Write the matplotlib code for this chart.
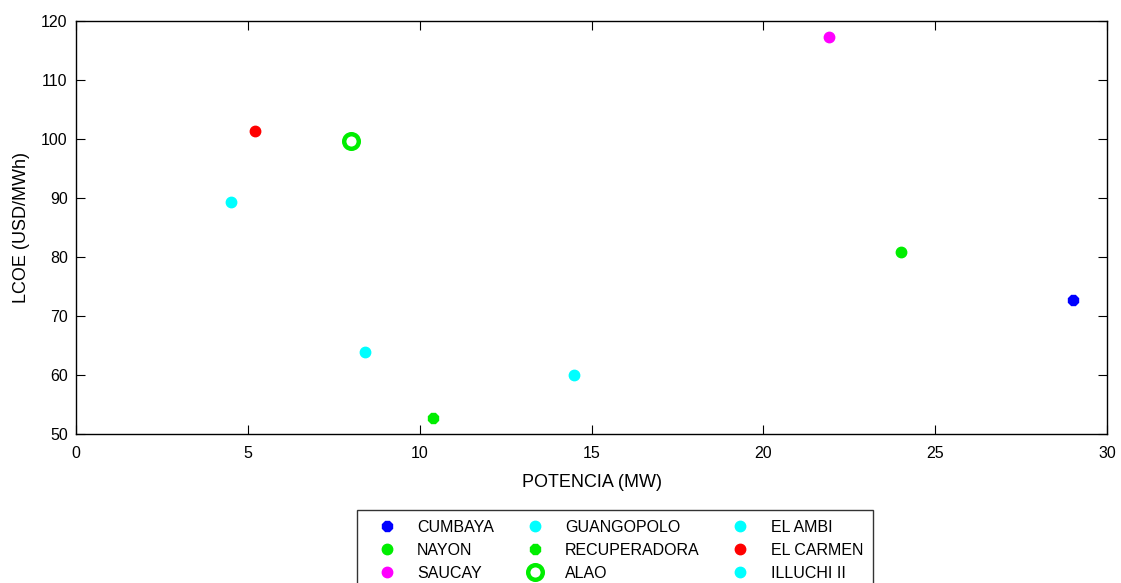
import numpy as np
import matplotlib.pyplot as plt

plt.rcParams['font.family'] = ['Liberation Sans', 'DejaVu Sans']

# centrales hidroelectricas: potencia (MW) y LCOE (USD/MWh)
names = ['CUMBAYA', 'NAYON', 'SAUCAY', 'GUANGOPOLO', 'RECUPERADORA',
         'ALAO', 'EL AMBI', 'EL CARMEN', 'ILLUCHI II']
potencia = [29.0, 24.0, 21.9, 14.5, 10.4, 8.0, 8.4, 5.2, 4.5]
lcoe = [72.7, 80.9, 117.3, 60.0, 52.7, 99.6, 63.9, 101.3, 89.4]
colors = ['#0000ff', '#00ee00', '#ff00ff', '#00ffff', '#00ee00',
          '#00ee00', '#00ffff', '#ff0000', '#00ffff']
markers = ['8', 'o', 'o', 'o', '8', 'o', 'o', 'o', 'o']

fig = plt.figure(figsize=(11.21, 5.83), dpi=100)
ax = fig.add_axes([76 / 1121, 1 - 434 / 583, (1107 - 76) / 1121, (434 - 21) / 583])

for name, x, y, c, m in zip(names, potencia, lcoe, colors, markers):
    if name == 'ALAO':
        ax.plot(x, y, 'o', ms=10.5, mfc='white', mec=c, mew=3.2, label=name)
    else:
        ax.plot(x, y, m, ms=7.5, color=c, mec=c, label=name)

ax.set_xlim(0, 30)
ax.set_ylim(50, 120)
ax.set_xticks(np.arange(0, 31, 5))
ax.set_yticks(np.arange(50, 121, 10))
ax.tick_params(direction='in', top=True, right=True, labelsize=11.5, length=6.5)
ax.tick_params(axis='x', pad=9)
ax.tick_params(axis='y', pad=6)
for s in ax.spines.values():
    s.set_linewidth(1.0)
ax.set_xlabel('POTENCIA (MW)', fontsize=13, labelpad=9)
ax.set_ylabel('LCOE (USD/MWh)', fontsize=13, labelpad=8)

leg = fig.legend(ncol=3, loc='upper left', bbox_to_anchor=(357 / 1121, 1 - 510 / 583),
                 fontsize=11.5, frameon=True, fancybox=False, edgecolor='black',
                 borderpad=0.6, labelspacing=0.5, columnspacing=1.3,
                 handletextpad=0.65, handlelength=2.5, borderaxespad=0)
leg.get_frame().set_linewidth(1.0)

fig.savefig('out.png', dpi=100)
